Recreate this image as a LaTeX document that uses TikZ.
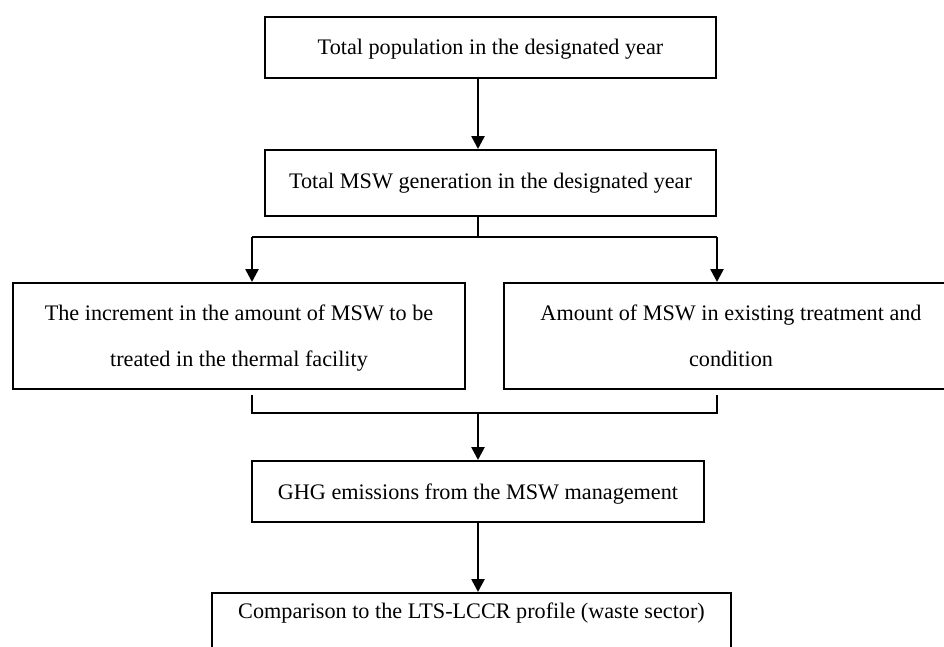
\documentclass[tikz,border=0pt]{standalone}
\usepackage{fontspec}
\setmainfont{Liberation Serif}
\usetikzlibrary{arrows.meta}
\begin{document}
\begin{tikzpicture}[x=1pt,y=-1pt,
  box/.style={draw=black, line width=1.5pt, inner sep=0pt, align=center, anchor=north,
    font=\fontsize{22.2}{46}\selectfont},
  conn/.style={draw=black, line width=2.6pt},
  arr/.style={conn, -{Triangle[width=13pt,length=13pt]}}]
\clip (0,0) rectangle (944,646);
\fill[white] (0,0) rectangle (944,646);
\node[box, minimum width=451pt, text height=38pt, text depth=23pt] (b1) at (490.5,16) {Total population in the designated year};
\node[box, minimum width=451pt, text height=39pt, text depth=27pt] (b2) at (490.5,149) {Total MSW generation in the designated year};
\node[box, minimum width=452pt, text height=84pt, text depth=22pt] (b3) at (239,282) {The increment in the amount of MSW to be\\treated in the thermal facility};
\node[box, minimum width=454pt, text height=84pt, text depth=22pt] (b4) at (731,282) {Amount of MSW in existing treatment and\\condition};
\node[box, minimum width=452pt, text height=39pt, text depth=22pt] (b5) at (478,460) {GHG emissions from the MSW management};
\node[box, minimum width=519pt, text height=26pt, text depth=45pt] (b6) at (471.5,592) {Comparison to the LTS-LCCR profile (waste sector)};
\coordinate (sp) at (478,237);
\coordinate (spl) at (252,237);
\coordinate (spr) at (717,237);
\coordinate (jc) at (478,413);
\coordinate (jl) at (252,413);
\coordinate (jr) at (717,413);
\draw[arr] (b1.south -| b5) -- (b2.north -| b5);
\draw[conn] (b2.south -| sp) -- (sp);
\draw[conn] (spl) -- (spr);
\draw[arr] (spl) -- (b3.north -| spl);
\draw[arr] (spr) -- (b4.north -| spr);
\draw[conn] ([yshift=-5pt]b3.south -| jl) -- (jl) -- (jr) -- ([yshift=-5pt]b4.south -| jr);
\draw[arr] (jc) -- (b5.north);
\draw[arr] (b5.south) -- (b6.north -| b5);
\end{tikzpicture}
\end{document}
